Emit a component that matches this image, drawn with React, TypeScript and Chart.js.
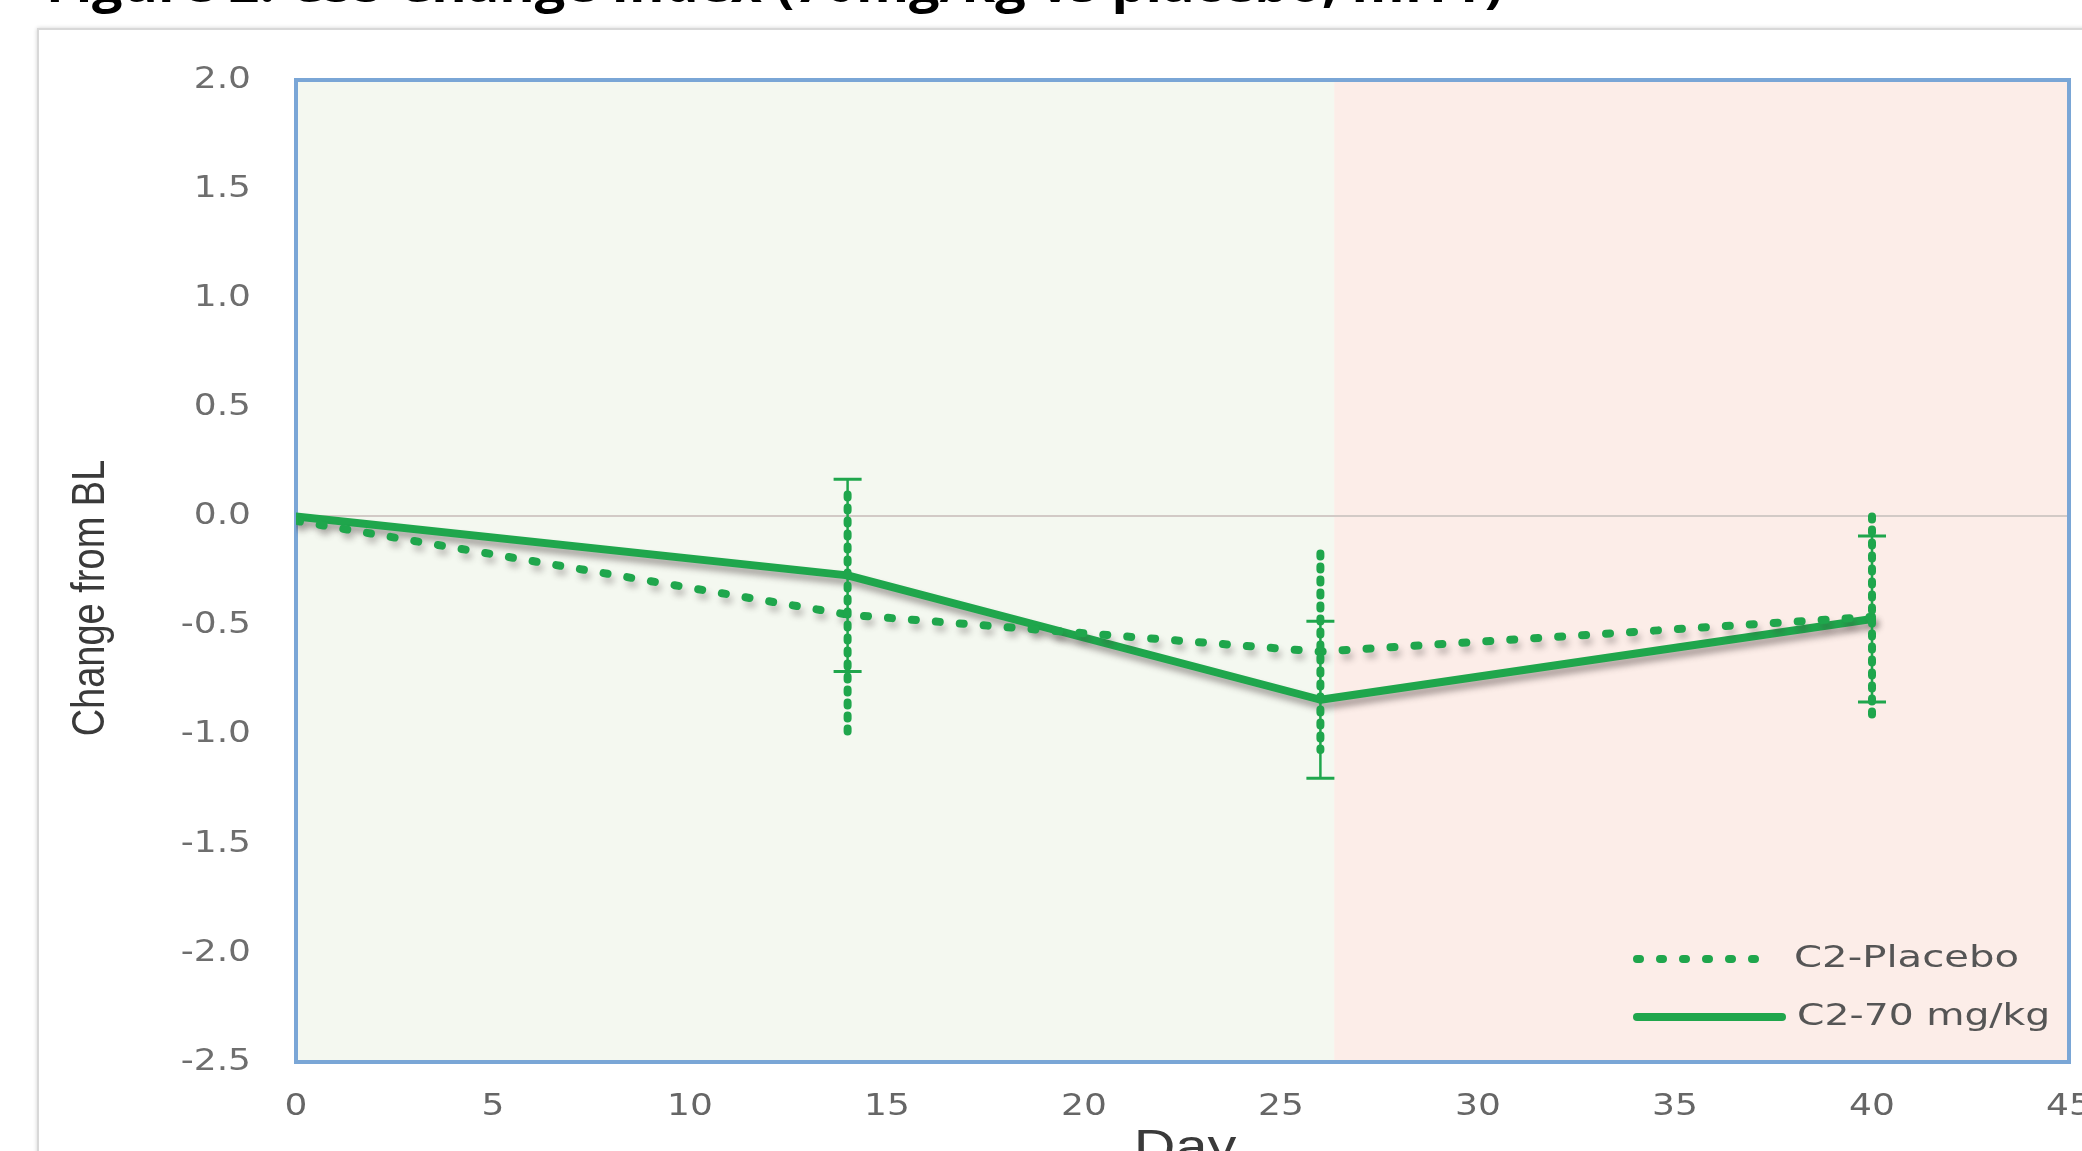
import React, { useEffect, useRef } from 'react';
import { Chart, registerables } from 'chart.js';

Chart.register(...registerables);

// ---- data ----
const days = [0, 14, 26, 40];
const placeboMean = [-0.02, -0.45, -0.62, -0.46];
const placeboErr = [0, 0.55, 0.45, 0.46];
const activeMean = [0, -0.27, -0.84, -0.47];
const activeErr = [0, 0.44, 0.36, 0.38];
const xTickValues = [0, 5, 10, 15, 20, 25, 30, 35, 40, 45];
const yTickValues = [2.0, 1.5, 1.0, 0.5, 0.0, -0.5, -1.0, -1.5, -2.0, -2.5];
const shadeBoundaryDay = 26.35;
const seriesLabels = ['C2-Placebo', 'C2-70 mg/kg'];
const titleText = 'Figure 2: CSS Change Index (70mg/kg vs placebo, mITT)';
const xTitle = 'Day';
const yTitle = 'Change from BL';

const GREEN = '#1fa64c';
const TICK_FONT = '30px "DejaVu Sans", Verdana, sans-serif';
const TITLE_FONT = '38px "Liberation Sans", Arial, sans-serif';

function drawText(
  ctx: CanvasRenderingContext2D,
  text: string,
  x: number,
  y: number,
  font: string,
  color: string,
  sx: number,
  align: CanvasTextAlign,
  baseline: CanvasTextBaseline,
) {
  ctx.save();
  ctx.font = font;
  ctx.fillStyle = color;
  ctx.textAlign = align;
  ctx.textBaseline = baseline;
  ctx.translate(x, y);
  ctx.scale(sx, 1);
  ctx.fillText(text, 0, 0);
  ctx.restore();
}

const decorPlugin = {
  id: 'decor',
  beforeDraw(chart: any) {
    const { ctx, chartArea } = chart;
    const { left, right, top, bottom } = chartArea;
    const bx = chart.scales.x.getPixelForValue(shadeBoundaryDay);
    ctx.save();
    ctx.fillStyle = '#f4f8f0';
    ctx.fillRect(left, top, bx - left, bottom - top);
    ctx.fillStyle = '#fcede8';
    ctx.fillRect(bx, top, right - bx, bottom - top);
    ctx.restore();
  },
  beforeDatasetsDraw(chart: any) {
    const { ctx, chartArea } = chart;
    const { left, right, top, bottom } = chartArea;
    ctx.save();
    ctx.strokeStyle = '#7aa6d6';
    ctx.lineWidth = 4;
    ctx.strokeRect(left, top, right - left, bottom - top);
    ctx.restore();
  },
  beforeDatasetDraw(chart: any, args: any) {
    const ctx = chart.ctx;
    ctx.save();
    ctx.shadowColor = args.index === 1 ? 'rgba(70,60,60,0.45)' : 'rgba(70,60,60,0.3)';
    ctx.shadowBlur = 6;
    ctx.shadowOffsetX = 3;
    ctx.shadowOffsetY = 6;
  },
  afterDatasetDraw(chart: any) {
    chart.ctx.restore();
  },
  afterDatasetsDraw(chart: any) {
    const { ctx } = chart;
    const xs = chart.scales.x;
    const ys = chart.scales.y;
    ctx.save();
    ctx.strokeStyle = GREEN;
    days.forEach((d, i) => {
      const px = xs.getPixelForValue(d);
      if (activeErr[i] > 0) {
        const yHi = ys.getPixelForValue(activeMean[i] + activeErr[i]);
        const yLo = ys.getPixelForValue(activeMean[i] - activeErr[i]);
        ctx.setLineDash([]);
        ctx.lineCap = 'butt';
        ctx.lineWidth = 2.5;
        ctx.beginPath();
        ctx.moveTo(px, yHi);
        ctx.lineTo(px, yLo);
        ctx.stroke();
        ctx.lineWidth = 3;
        ctx.beginPath();
        ctx.moveTo(px - 14, yHi);
        ctx.lineTo(px + 14, yHi);
        ctx.moveTo(px - 14, yLo);
        ctx.lineTo(px + 14, yLo);
        ctx.stroke();
      }
      if (placeboErr[i] > 0) {
        const yHi = ys.getPixelForValue(placeboMean[i] + placeboErr[i]);
        const yLo = ys.getPixelForValue(placeboMean[i] - placeboErr[i]);
        ctx.setLineDash([3, 10]);
        ctx.lineCap = 'round';
        ctx.lineWidth = 8;
        ctx.beginPath();
        ctx.moveTo(px, yHi);
        ctx.lineTo(px, yLo);
        ctx.stroke();
      }
    });
    ctx.restore();
  },
  afterDraw(chart: any) {
    const { ctx } = chart;
    const xs = chart.scales.x;
    const ys = chart.scales.y;
    // y tick labels
    yTickValues.forEach((v) => {
      drawText(ctx, v.toFixed(1), 251, ys.getPixelForValue(v), TICK_FONT, '#6e6e6e', 1.2, 'right', 'middle');
    });
    // x tick labels
    xTickValues.forEach((v) => {
      drawText(ctx, String(v), xs.getPixelForValue(v), 1107, TICK_FONT, '#666666', 1.2, 'center', 'middle');
    });
    // axis titles
    ctx.save();
    ctx.translate(91, 598);
    ctx.scale(1.2, 1);
    ctx.rotate(-Math.PI / 2);
    ctx.font = TITLE_FONT;
    ctx.fillStyle = '#3a3a3a';
    ctx.textAlign = 'center';
    ctx.textBaseline = 'middle';
    ctx.fillText(yTitle, 0, 0);
    ctx.restore();
    drawText(ctx, xTitle, 1185, 1163, '48px "Liberation Sans", Arial, sans-serif', '#3a3a3a', 1.2, 'center', 'alphabetic');

    // legend
    const legendY = [959, 1017];
    ctx.save();
    ctx.strokeStyle = GREEN;
    ctx.lineCap = 'round';
    ctx.lineWidth = 8;
    ctx.setLineDash([3, 20]);
    ctx.beginPath();
    ctx.moveTo(1637, legendY[0]);
    ctx.lineTo(1770, legendY[0]);
    ctx.stroke();
    ctx.setLineDash([]);
    ctx.lineWidth = 8;
    ctx.beginPath();
    ctx.moveTo(1637, legendY[1]);
    ctx.lineTo(1782, legendY[1]);
    ctx.stroke();
    ctx.restore();
    const legendFont = '30px "DejaVu Sans", Verdana, sans-serif';
    drawText(ctx, seriesLabels[0], 1794, legendY[0], legendFont, '#555555', 1.34, 'left', 'middle');
    drawText(ctx, seriesLabels[1], 1797, legendY[1], legendFont, '#555555', 1.31, 'left', 'middle');
  },
};

export default function App() {
  const canvasRef = useRef<HTMLCanvasElement | null>(null);

  useEffect(() => {
    if (!canvasRef.current) return;
    const chart = new Chart(canvasRef.current, {
      type: 'line',
      data: {
        datasets: [
          {
            label: seriesLabels[0],
            data: days.map((d, i) => ({ x: d, y: placeboMean[i] })),
            borderColor: GREEN,
            borderWidth: 8,
            borderDash: [4, 20],
            borderCapStyle: 'round',
            pointRadius: 0,
            tension: 0,
            fill: false,
          },
          {
            label: seriesLabels[1],
            data: days.map((d, i) => ({ x: d, y: activeMean[i] })),
            borderColor: GREEN,
            borderWidth: 8,
            borderCapStyle: 'round',
            borderJoinStyle: 'round',
            pointRadius: 0,
            tension: 0,
            fill: false,
          },
        ],
      },
      options: {
        responsive: false,
        animation: false,
        events: [],
        layout: { padding: { top: 80, right: 13, left: 0, bottom: 0 } },
        plugins: {
          legend: { display: false },
          tooltip: { enabled: false },
          title: { display: false },
        },
        scales: {
          x: {
            type: 'linear',
            min: 0,
            max: 45,
            ticks: { display: false, stepSize: 5 },
            grid: { display: false },
            border: { display: false },
            afterFit: (s: any) => {
              s.height = 89;
            },
          },
          y: {
            type: 'linear',
            min: -2.5,
            max: 2,
            ticks: { display: false, stepSize: 0.5 },
            grid: {
              drawTicks: false,
              lineWidth: 2,
              color: (c: any) => (c.tick && c.tick.value === 0 ? '#d2cac6' : 'rgba(0,0,0,0)'),
            },
            border: { display: false },
            afterFit: (s: any) => {
              s.width = 296;
            },
          },
        },
      },
      plugins: [decorPlugin],
    } as any);
    return () => chart.destroy();
  }, []);

  return (
    <div
      style={{
        position: 'fixed',
        left: 0,
        top: 0,
        width: 2082,
        height: 1151,
        overflow: 'hidden',
        background: '#ffffff',
      }}
    >
      <div
        style={{
          position: 'absolute',
          left: 37,
          top: 28,
          width: 2200,
          height: 1300,
          border: '2px solid #d8d8d8',
          boxShadow: '0 0 4px rgba(0,0,0,0.18)',
          background: '#ffffff',
        }}
      />
      <div
        style={{
          position: 'absolute',
          left: 46,
          top: -42,
          fontFamily: '"Open Sans", sans-serif',
          fontWeight: 700,
          fontSize: 50,
          lineHeight: '50px',
          whiteSpace: 'nowrap',
          color: '#000000',
          transform: 'scaleX(1.08)',
          transformOrigin: 'left top',
        }}
      >
        {titleText}
      </div>
      <canvas
        ref={canvasRef}
        width={2082}
        height={1151}
        style={{ position: 'absolute', left: 0, top: 0, width: 2082, height: 1151 }}
      />
    </div>
  );
}
